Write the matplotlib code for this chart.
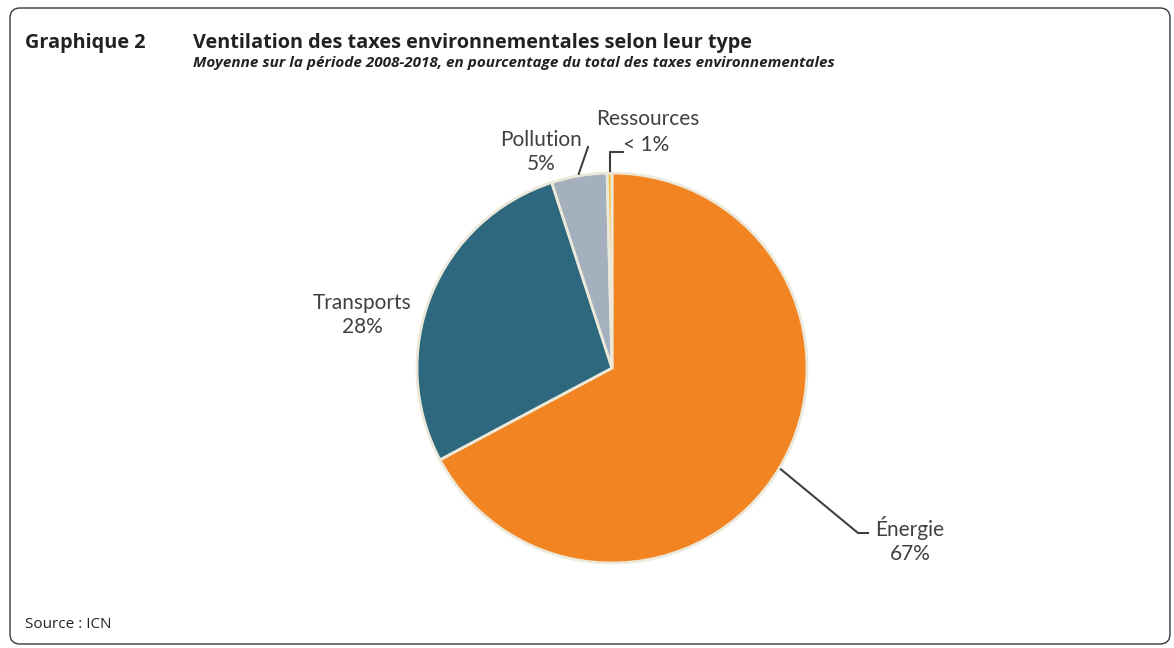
import numpy as np
import matplotlib.pyplot as plt
from matplotlib.patches import FancyBboxPatch

# data (share of environmental taxes, %)
categories = ['Énergie', 'Transports', 'Pollution', 'Ressources']
values = [67.2, 27.8, 4.6, 0.4]
pct_labels = ['67%', '28%', '5%', '< 1%']
colors = ['#F28522', '#2E687E', '#A4B0BE', '#F6C244']

plt.rcParams['font.family'] = ['Lato', 'DejaVu Sans']

W, H = 1174, 648
fig = plt.figure(figsize=(W / 100, H / 100), dpi=100)
ax = fig.add_axes([0, 0, 1, 1])

# pie
cx, cy, r = 612, H - 368, 195
wedges, _ = ax.pie(values, colors=colors, startangle=90, counterclock=False,
                   center=(cx, cy), radius=r, frame=True,
                   wedgeprops=dict(edgecolor='#ECE8DA', linewidth=2))
ax.set_xlim(0, W)
ax.set_ylim(0, H)
ax.set_aspect('equal')
ax.axis('off')

# frame
frame = FancyBboxPatch((10, 4), W - 14, H - 12, boxstyle='round,pad=0,rounding_size=10',
                       fc='none', ec='#3a3a3a', lw=1.0)
ax.add_patch(frame)

# titles
head = ['Open Sans', 'DejaVu Sans']
ax.text(25, H - 43, 'Graphique 2', fontsize=14.3, fontweight='bold', color='#222222',
        va='center', family=head)
ax.text(193, H - 43, 'Ventilation des taxes environnementales selon leur type',
        fontsize=14.3, fontweight='bold', color='#222222', va='center', family=head)
ax.text(193, H - 63, 'Moyenne sur la période 2008-2018, en pourcentage du total des taxes environnementales',
        fontsize=11, fontweight='bold', fontstyle='italic', color='#222222', va='center', family=head)
ax.text(25, H - 624, 'Source : ICN', fontsize=11, color='#222222', va='center', family=head)

txt = dict(fontsize=15, color='#404040', ha='center', va='center', linespacing=1.2)
lc = dict(color='#404040', lw=1.5)

def edge_point(w, frac=0.5, rr=r):
    a = np.deg2rad(w.theta1 + (w.theta2 - w.theta1) * frac)
    return cx + rr * np.cos(a), cy + rr * np.sin(a)

# Énergie
x0, y0 = edge_point(wedges[0], 0.5, r + 2)
ax.plot([x0, 858, 868], [y0, H - 533, H - 533], **lc)
ax.text(910, H - 540, categories[0] + '\n' + pct_labels[0], **txt)

# Transports
ax.text(362, H - 315, categories[1] + '\n' + pct_labels[1], **txt)

# Pollution
x0, y0 = edge_point(wedges[2], 0.5, r + 2)
ax.plot([x0, 588], [y0, H - 147], **lc)
ax.text(541, H - 152, categories[2] + '\n' + pct_labels[2], **txt)

# Ressources
x0, y0 = edge_point(wedges[3], 0.5, r + 2)
ax.plot([x0, x0, x0 + 13], [y0, H - 152, H - 152], **lc)
ax.text(648, H - 119, categories[3], **txt)
ax.text(646, H - 145, pct_labels[3], **txt)

fig.savefig('out.png', dpi=100)
